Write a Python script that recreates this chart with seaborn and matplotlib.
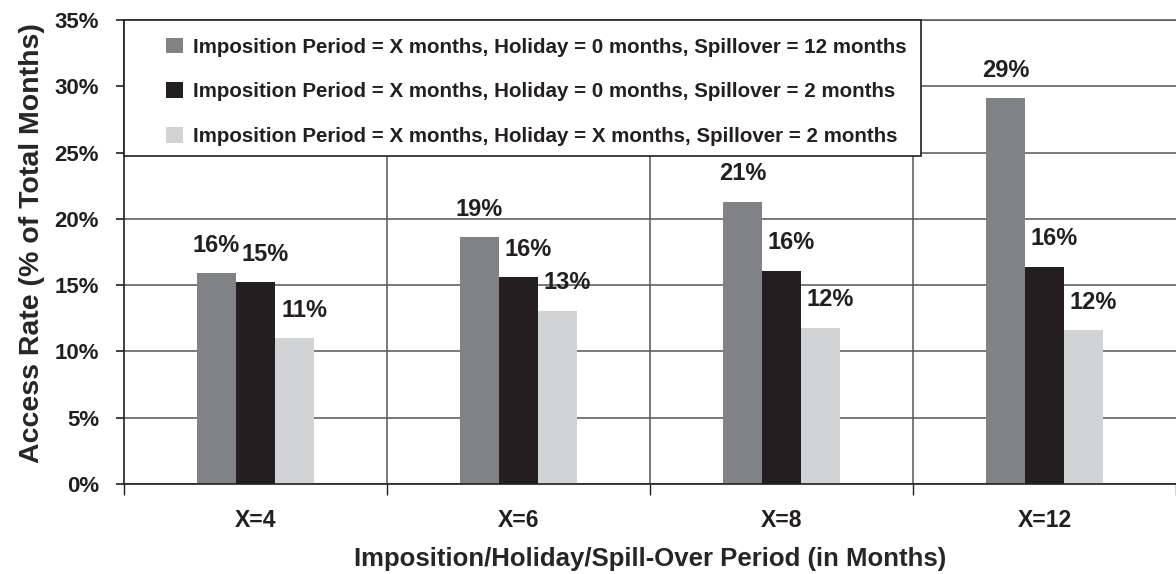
import matplotlib
matplotlib.use('Agg')
import matplotlib.pyplot as plt
from matplotlib.patches import Rectangle
from matplotlib.ticker import PercentFormatter, FixedLocator
import pandas as pd
import seaborn as sns

# values (fraction of total months)
periods = ['X=4', 'X=6', 'X=8', 'X=12']
series = [
    'Imposition Period = X months, Holiday = 0 months, Spillover = 12 months',
    'Imposition Period = X months, Holiday = 0 months, Spillover = 2 months',
    'Imposition Period = X months, Holiday = X months, Spillover = 2 months',
]
spill12 = [0.159, 0.186, 0.213, 0.291]
spill2 = [0.152, 0.156, 0.161, 0.164]
holiday_spill2 = [0.110, 0.1305, 0.118, 0.116]
colors = ['#808285', '#231f20', '#d1d3d4']

INK = '#231f20'
GRID = '#555555'


def build_frame():
    rows = []
    for name, vals in zip(series, [spill12, spill2, holiday_spill2]):
        for p, v in zip(periods, vals):
            rows.append((p, name, v))
    return pd.DataFrame(rows, columns=('period', 'series', 'rate'))


def main():
    sns.set_style('white')
    plt.rcParams['font.family'] = ['Liberation Sans', 'DejaVu Sans']
    plt.rcParams['font.weight'] = 'bold'
    plt.rcParams['text.color'] = INK

    df = build_frame()
    fig = plt.figure(figsize=(11.76, 5.74), dpi=100)
    ax = fig.add_axes([124 / 1176, 1 - 484 / 574, 1 - 124 / 1176, (484 - 20) / 574])

    sns.barplot(data=df, x='period', y='rate', hue='series', order=periods,
                hue_order=series, palette=colors, width=0.445, gap=0,
                saturation=1, linewidth=0, ax=ax, legend=True)

    # data labels, rounded like the source; the 2nd/3rd series sit a bit right
    pad = 12
    for i, cont in enumerate(ax.containers):
        texts = ax.bar_label(cont, labels=[f'{b.get_height():.0%}' for b in cont],
                             padding=pad, fontsize=17, fontweight='bold',
                             color=INK)
        if i > 0:
            for t in texts:
                t.xyann = (7, pad)

    ax.set_ylim(0, 0.35)
    ax.set_xlim(-0.5, 3.5)
    ax.set_yticks([i * 0.05 for i in range(8)])
    ax.yaxis.set_major_formatter(PercentFormatter(1.0, decimals=0))
    ax.tick_params(axis='y', left=True, direction='out', length=6, width=1.2,
                   color=INK, pad=12, labelsize=16, labelcolor=INK)
    ax.tick_params(axis='x', which='major', bottom=True, length=0, pad=18,
                   labelsize=16.5, labelcolor=INK)
    ax.xaxis.set_minor_locator(FixedLocator([-0.5, 0.5, 1.5, 2.5, 3.5]))
    ax.tick_params(axis='x', which='minor', bottom=True, direction='out',
                   length=8, width=1, color=INK)

    ax.grid(axis='y', color=GRID, linewidth=1.1)
    for xb in [0.5, 1.5, 2.5]:
        ax.axvline(xb, color=GRID, linewidth=1.1, zorder=0.5)
    ax.set_axisbelow(True)

    for side in ['left', 'bottom']:
        ax.spines[side].set_color(INK)
        ax.spines[side].set_linewidth(1.2)
    ax.spines['top'].set_color(GRID)
    ax.spines['top'].set_linewidth(1.1)
    ax.spines['right'].set_visible(False)

    ax.set_xlabel('Imposition/Holiday/Spill-Over Period (in Months)',
                  fontsize=18.5, fontweight='bold', labelpad=11)
    ax.set_ylabel('Access Rate (% of Total Months)', fontsize=20.5,
                  fontweight='bold')
    ax.yaxis.set_label_coords(-0.075, 0.52)

    # legend box sits over the top-left of the plot
    frame = Rectangle((0, 0.707), 0.758, 0.293, transform=ax.transAxes,
                      facecolor='white', edgecolor=INK, linewidth=1.2,
                      zorder=4, clip_on=False)
    ax.add_patch(frame)
    handles, labels = ax.get_legend_handles_labels()
    ax.get_legend().remove()
    leg = ax.legend(handles, labels, loc='upper left',
                    bbox_to_anchor=(0.040, 0.962), frameon=False,
                    borderpad=0, borderaxespad=0, handlelength=0.8,
                    handleheight=0.8, handletextpad=0.5, labelspacing=1.25,
                    prop={'size': 14.8, 'weight': 'bold'})
    leg.set_zorder(5)
    for t in leg.get_texts():
        t.set_color(INK)

    fig.savefig('out.png', dpi=100)


if __name__ == '__main__':
    main()
